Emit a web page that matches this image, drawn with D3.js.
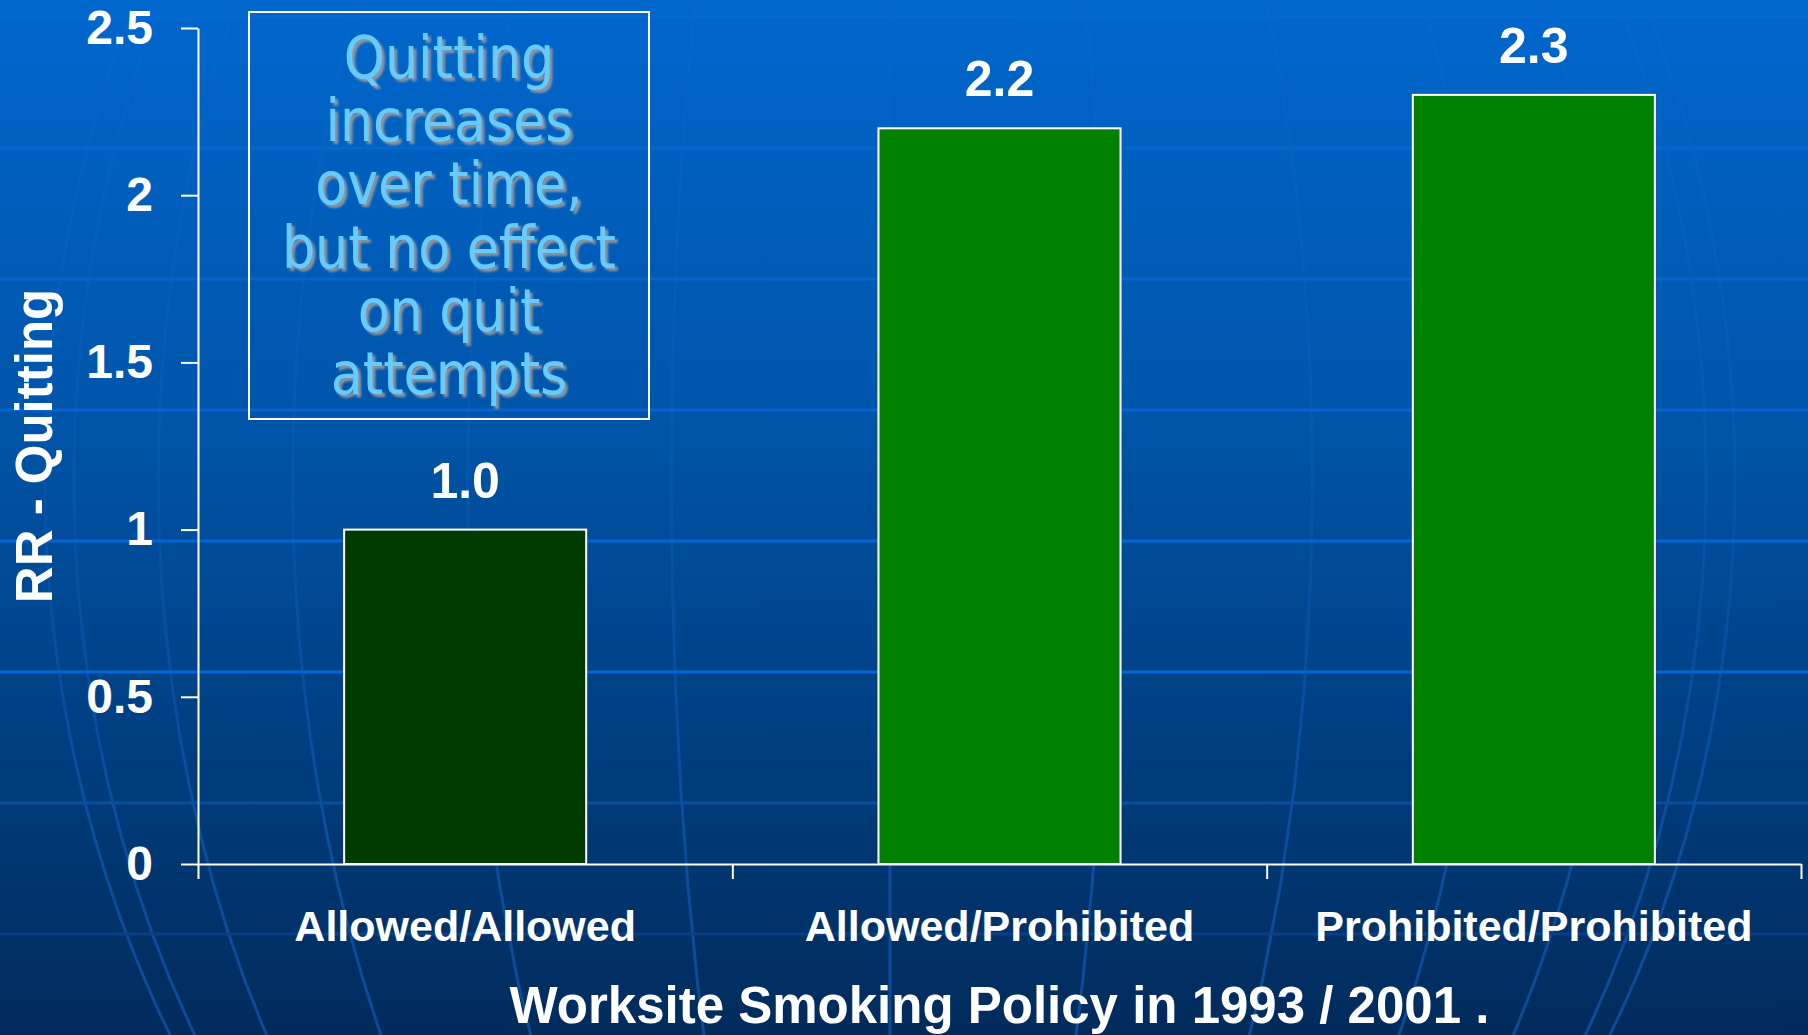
<!DOCTYPE html>
<html>
<head>
<meta charset="utf-8">
<script src="https://cdn.jsdelivr.net/npm/d3@7"></script>
<style>
  html, body { margin: 0; padding: 0; overflow: hidden; background: #003a78; }
  svg { display: block; }
  .lbl { font-family: "Liberation Sans", Arial, sans-serif; font-weight: bold; fill: #fff; }
</style>
</head>
<body>
<div id="chart"></div>
<script>
// data
const categories = ["Allowed/Allowed", "Allowed/Prohibited", "Prohibited/Prohibited"];
const rrValues = [1.0, 2.2, 2.3];
const yTicks = [0, 0.5, 1, 1.5, 2, 2.5];
const noteLines = ["Quitting", "increases", "over time,", "but no effect", "on quit", "attempts"];
const yTitle = "RR - Quitting";
const xTitle = "Worksite Smoking Policy in 1993 / 2001 .";

const W = 1808, H = 1035;
const margin = { top: 28, right: 7, bottom: 171, left: 198 };

const svg = d3.select("#chart").append("svg")
  .attr("width", W)
  .attr("height", H);

const defs = svg.append("defs");

// background gradient
const bg = defs.append("linearGradient")
  .attr("id", "bg")
  .attr("x1", 0).attr("y1", 0).attr("x2", 0).attr("y2", 1);
[["0%", "#0067cd"], ["40%", "#0055aa"], ["75%", "#003c7c"], ["100%", "#022b5b"]]
  .forEach(([o, c]) => bg.append("stop").attr("offset", o).attr("stop-color", c));

// template stripes: subtle at the top, strongest mid-slide, fading at the bottom
const stripe = defs.append("linearGradient")
  .attr("id", "stripe")
  .attr("gradientUnits", "userSpaceOnUse")
  .attr("x1", 0).attr("y1", 0).attr("x2", 0).attr("y2", H);
[["0%", "#036ad2"], ["30%", "#0564c8"], ["66%", "#0066da"], ["80%", "#0a4a98"], ["100%", "#063672"]]
  .forEach(([o, c]) => stripe.append("stop").attr("offset", o).attr("stop-color", c));

// mask so the globe lines show mostly near the bottom
const fade = defs.append("linearGradient")
  .attr("id", "fade")
  .attr("gradientUnits", "userSpaceOnUse")
  .attr("x1", 0).attr("y1", 0).attr("x2", 0).attr("y2", H);
[["0%", 0.35], ["55%", 0.45], ["80%", 0.9], ["100%", 1]]
  .forEach(([o, a]) => fade.append("stop").attr("offset", o)
    .attr("stop-color", "#fff").attr("stop-opacity", a));
defs.append("mask")
  .attr("id", "globeMask")
  .attr("maskUnits", "userSpaceOnUse")
  .attr("x", 0).attr("y", 0).attr("width", W).attr("height", H)
  .append("rect")
  .attr("width", W).attr("height", H)
  .attr("fill", "url(#fade)");

// soft drop shadow for the note text
const shadow = defs.append("filter")
  .attr("id", "shadow")
  .attr("x", "-10%").attr("y", "-20%").attr("width", "130%").attr("height", "150%");
shadow.append("feDropShadow")
  .attr("dx", 3).attr("dy", 3)
  .attr("stdDeviation", 0.8)
  .attr("flood-color", "#8f949c")
  .attr("flood-opacity", 1);

svg.append("rect").attr("width", W).attr("height", H).attr("fill", "url(#bg)");

// globe decoration
const gx = 890, gy = 480, grx = 845, gry = 1060;
const proj = d3.geoOrthographic()
  .scale(grx)
  .translate([0, 0])
  .rotate([0, 0])
  .clipAngle(90);
const geoPath = d3.geoPath(proj);
const meridians = d3.geoGraticule().step([15, 15]).lines()
  .filter(l => l.coordinates[0][0] === l.coordinates[l.coordinates.length - 1][0]);

const globe = svg.append("g")
  .attr("mask", "url(#globeMask)")
  .append("g")
  .attr("transform", `translate(${gx},${gy}) scale(1,${gry / grx})`)
  .attr("fill", "none")
  .attr("stroke", "#1a6ad0")
  .attr("stroke-opacity", 0.5)
  .attr("stroke-width", 3);

globe.selectAll("path.mer")
  .data(meridians)
  .join("path")
  .attr("class", "mer")
  .attr("d", geoPath)
  .attr("vector-effect", "non-scaling-stroke");

globe.append("path")
  .datum({ type: "Sphere" })
  .attr("d", geoPath)
  .attr("vector-effect", "non-scaling-stroke");

// horizontal template stripes
svg.append("g")
  .selectAll("line")
  .data(d3.range(17, H, 131))
  .join("line")
  .attr("x1", 0).attr("x2", W)
  .attr("y1", d => d).attr("y2", d => d)
  .attr("stroke", "url(#stripe)")
  .attr("stroke-width", 3);

// scales
const x = d3.scaleBand()
  .domain(categories)
  .range([margin.left, W - margin.right])
  .paddingInner(0.547)
  .paddingOuter(0.2735);

const y = d3.scaleLinear()
  .domain([0, 2.5])
  .range([H - margin.bottom, margin.top]);

const barColor = d3.scaleOrdinal(categories, ["#003c00", "#008000", "#008000"]);

// bars
svg.append("g")
  .selectAll("rect")
  .data(categories)
  .join("rect")
  .attr("x", d => x(d))
  .attr("y", (d, i) => y(rrValues[i]))
  .attr("width", x.bandwidth())
  .attr("height", (d, i) => y(0) - y(rrValues[i]))
  .attr("fill", d => barColor(d))
  .attr("stroke", "#fff")
  .attr("stroke-width", 2);

// value labels
svg.append("g")
  .selectAll("text")
  .data(categories)
  .join("text")
  .attr("class", "lbl")
  .attr("x", d => x(d) + x.bandwidth() / 2)
  .attr("y", (d, i) => y(rrValues[i]) - 32)
  .attr("text-anchor", "middle")
  .style("font-size", "50px")
  .text((d, i) => d3.format(".1f")(rrValues[i]));

// y axis
const yAxis = svg.append("g")
  .attr("transform", `translate(${margin.left},0)`)
  .style("color", "#fff")
  .call(d3.axisLeft(y)
    .tickValues(yTicks)
    .tickFormat(d3.format("~g"))
    .tickSize(17)
    .tickSizeOuter(0)
    .tickPadding(28));
yAxis.selectAll("path, line").attr("stroke-width", 2);
yAxis.selectAll("text")
  .attr("class", "lbl")
  .style("font-size", "48px");

// x axis: separators between categories
const xSep = d3.scaleLinear().domain([0, categories.length]).range(x.range());
const xAxis = svg.append("g")
  .attr("transform", `translate(0,${y(0)})`)
  .style("color", "#fff")
  .call(d3.axisBottom(xSep)
    .tickValues(d3.range(categories.length + 1))
    .tickFormat("")
    .tickSize(15)
    .tickSizeOuter(0));
xAxis.selectAll("path, line").attr("stroke-width", 2);

// category labels
const xLab = svg.append("g")
  .attr("transform", `translate(0,${y(0)})`)
  .call(d3.axisBottom(x).tickSize(0).tickPadding(46));
xLab.select(".domain").remove();
xLab.selectAll("text")
  .attr("class", "lbl")
  .style("font-size", "43px");

// axis titles
svg.append("text")
  .attr("class", "lbl")
  .attr("transform", `translate(52,${(y(0) + y(2.5)) / 2}) rotate(-90)`)
  .attr("text-anchor", "middle")
  .style("font-size", "51px")
  .text(yTitle);

svg.append("text")
  .attr("class", "lbl")
  .attr("x", (x.range()[0] + x.range()[1]) / 2)
  .attr("y", 1023)
  .attr("text-anchor", "middle")
  .style("font-size", "51px")
  .text(xTitle);

// annotation box
const note = { x: 249, y: 12, w: 400, h: 407, first: 78, step: 63.2 };
svg.append("rect")
  .attr("x", note.x).attr("y", note.y)
  .attr("width", note.w).attr("height", note.h)
  .attr("fill", "none")
  .attr("stroke", "#fff")
  .attr("stroke-width", 2);

svg.append("g")
  .attr("filter", "url(#shadow)")
  .append("g")
  .attr("transform", `translate(${note.x + note.w / 2},0) scale(0.9,1)`)
  .style("font-family", "'DejaVu Sans', Verdana, sans-serif")
  .style("font-size", "58px")
  .attr("text-anchor", "middle")
  .attr("fill", "#66ccff")
  .selectAll("text")
  .data(noteLines)
  .join("text")
  .attr("x", 0)
  .attr("y", (d, i) => note.first + i * note.step)
  .text(d => d);
</script>
</body>
</html>
